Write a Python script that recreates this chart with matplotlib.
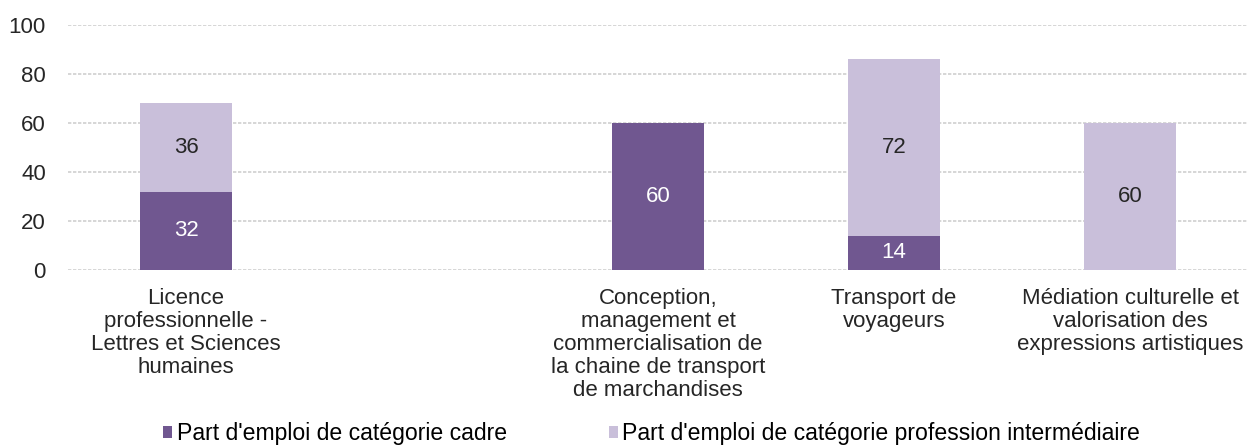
import matplotlib.pyplot as plt
import numpy as np

plt.rcParams['font.family'] = ['Liberation Sans', 'DejaVu Sans']

# categories (the second slot is empty in the original chart)
categories = [
    "Licence\nprofessionnelle -\nLettres et Sciences\nhumaines",
    "",
    "Conception,\nmanagement et\ncommercialisation de\nla chaine de transport\nde marchandises",
    "Transport de\nvoyageurs",
    "Médiation culturelle et\nvalorisation des\nexpressions artistiques",
]
cadre = [32, 0, 60, 14, 0]
intermediaire = [36, 0, 0, 72, 60]

dark = "#705790"
light = "#C9BFDA"
fs = 16

fig = plt.figure(figsize=(12.51, 4.46), dpi=100)
ax = fig.add_axes([68 / 1251, 1 - 270 / 446, 1180 / 1251, 245 / 446])

x = np.arange(len(categories))
b1 = ax.bar(x, cadre, width=0.39, color=dark, label="Part d'emploi de catégorie cadre", zorder=3)
b2 = ax.bar(x, intermediaire, width=0.39, bottom=cadre, color=light,
            label="Part d'emploi de catégorie profession intermédiaire", zorder=3)

for i in range(len(categories)):
    if cadre[i] > 0:
        ax.text(x[i], cadre[i] / 2, str(cadre[i]), ha="center", va="center",
                color="white", fontsize=fs, zorder=4)
    if intermediaire[i] > 0:
        ax.text(x[i], cadre[i] + intermediaire[i] / 2, str(intermediaire[i]),
                ha="center", va="center", color="#262626", fontsize=fs, zorder=4)

ax.set_xlim(-0.5, len(categories) - 0.5)
ax.set_ylim(0, 100)
ax.set_yticks(range(0, 101, 20))
ax.set_xticks(x)
ax.set_xticklabels(categories, fontsize=fs, linespacing=1.13)
ax.tick_params(axis="both", length=0, labelsize=fs, colors="#262626")
ax.tick_params(axis="x", pad=13)
ax.tick_params(axis="y", pad=16)
ax.yaxis.grid(True, color="#cfcfcf", linewidth=1.2, linestyle=(0, (2, 1)), zorder=0)
for s in ax.spines.values():
    s.set_visible(False)

fig.legend(handles=[b1, b2], loc="lower center", bbox_to_anchor=(0.521, -0.045), ncol=2,
           frameon=False, fontsize=16.6, handlelength=0.4, handleheight=0.4,
           handletextpad=0.2, columnspacing=4.4)

fig.savefig("out.png", dpi=100)
